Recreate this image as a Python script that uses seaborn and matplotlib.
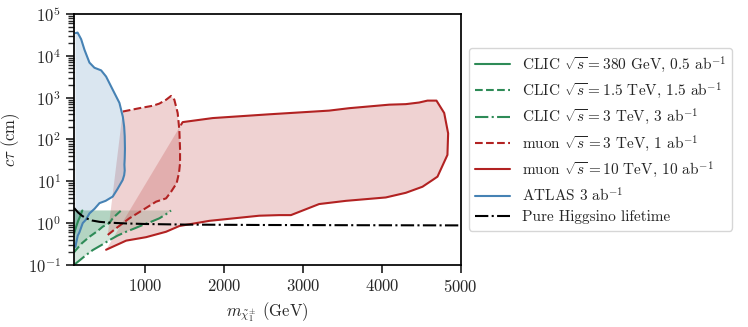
import numpy as np
import seaborn as sns
import matplotlib.pyplot as plt

# curves: mass (GeV), c*tau (cm)
clic380_m = [100, 120, 150, 180, 205]
clic380_ct = [0.55, 0.75, 1.1, 1.5, 2.0]

clic1p5_m = [100, 126, 200, 295, 400, 463, 548, 590, 640, 696]
clic1p5_ct = [0.2, 0.23, 0.33, 0.47, 0.65, 0.82, 1.0, 1.3, 1.6, 2.0]

clic3_m = [100, 147, 250, 337, 450, 548, 650, 760, 870, 970, 1080, 1181, 1260, 1329]
clic3_ct = [0.1, 0.118, 0.17, 0.226, 0.3, 0.39, 0.5, 0.62, 0.75, 0.9, 1.08, 1.3, 1.6, 2.0]

mu3_m = [527, 633, 801, 970, 1139, 1266, 1329, 1400, 1430, 1443, 1443, 1434,
         1413, 1371, 1329, 1266, 1180, 1097, 928, 718]
mu3_ct = [0.52, 0.75, 1.3, 2.05, 3.25, 3.9, 5.6, 9, 16, 27, 60, 170,
          430, 890, 1100, 890, 720, 640, 560, 466]

mu10_m = [506, 760, 1013, 1266, 1434, 1814, 2447, 2700, 2848, 3205, 3544, 4050,
          4304, 4515, 4642, 4705, 4831, 4840, 4790, 4692, 4578, 4472, 4304,
          4093, 3586, 3332, 2573, 1857, 1476, 1456]
mu10_ct = [0.23, 0.38, 0.46, 0.62, 0.85, 1.13, 1.5, 1.55, 1.55, 2.85, 3.4, 4.1,
           5.3, 7.4, 10.7, 12.9, 42.7, 140, 430, 850, 850, 765, 700,
           680, 560, 490, 400, 325, 260, 225]

atlas_m = [118, 145, 190, 232, 295, 358, 443, 506, 590, 675, 718, 735, 742,
           745, 742, 738, 742, 735, 716, 650, 590, 500, 422, 360, 295, 250,
           210, 168, 147, 126, 118]
atlas_ct = [35000, 36000, 25000, 14000, 6900, 5200, 4500, 3200, 1550, 750, 350,
            200, 120, 60, 35, 25, 18, 14, 10.7, 6.5, 4.3, 3.4, 3.0, 2.2, 1.7,
            1.2, 1.0, 0.6, 0.5, 0.33, 0.27]

higgsino_m = [100, 150, 200, 253, 330, 422, 560, 760, 1000, 1500, 2450, 3500, 5000]
higgsino_ct = [2.3, 1.8, 1.5, 1.3, 1.15, 1.07, 1.02, 0.98, 0.95, 0.92, 0.9, 0.89, 0.88]

labels = [r"CLIC $\sqrt{s} = 380$ GeV, 0.5 ab$^{-1}$",
          r"CLIC $\sqrt{s} = 1.5$ TeV, 1.5 ab$^{-1}$",
          r"CLIC $\sqrt{s} = 3$ TeV, 3 ab$^{-1}$",
          r"muon $\sqrt{s} = 3$ TeV, 1 ab$^{-1}$",
          r"muon $\sqrt{s} = 10$ TeV, 10 ab$^{-1}$",
          r"ATLAS 3 ab$^{-1}$",
          "Pure Higgsino lifetime"]

sns.set_theme(style="ticks")
plt.rcParams["font.family"] = "serif"
plt.rcParams["font.serif"] = ["cmr10", "DejaVu Serif"]
plt.rcParams["mathtext.fontset"] = "cm"
plt.rcParams["axes.formatter.use_mathtext"] = True
plt.rcParams["axes.unicode_minus"] = False
plt.rcParams["axes.edgecolor"] = "black"

green = "seagreen"
red = "firebrick"
blue = "steelblue"

fig = plt.figure(figsize=(7.48, 3.27), dpi=100)
ax = fig.add_axes([0.099, 0.19, 0.517, 0.767])

# filled regions: CLIC curves are closed off along ct = 2 cm
for m, ct in [(clic380_m, clic380_ct), (clic1p5_m, clic1p5_ct), (clic3_m, clic3_ct)]:
    ax.fill(list(m) + [m[0]], list(ct) + [ct[-1]], color=green, alpha=0.2, lw=0)
ax.fill(mu3_m, mu3_ct, color=red, alpha=0.2, lw=0)
ax.fill(mu10_m, mu10_ct, color=red, alpha=0.2, lw=0)
ax.fill(atlas_m, atlas_ct, color=blue, alpha=0.2, lw=0)

kw = dict(sort=False, estimator=None, ax=ax, lw=1.5)
sns.lineplot(x=clic380_m, y=clic380_ct, color=green, ls="-", label=labels[0], **kw)
sns.lineplot(x=clic1p5_m, y=clic1p5_ct, color=green, ls="--", label=labels[1], **kw)
sns.lineplot(x=clic3_m, y=clic3_ct, color=green, ls="-.", label=labels[2], **kw)
sns.lineplot(x=mu3_m, y=mu3_ct, color=red, ls="--", label=labels[3], **kw)
sns.lineplot(x=mu10_m, y=mu10_ct, color=red, ls="-", label=labels[4], **kw)
sns.lineplot(x=atlas_m, y=atlas_ct, color=blue, ls="-", label=labels[5], **kw)
sns.lineplot(x=higgsino_m, y=higgsino_ct, color="black", ls="-.", label=labels[6], **kw)

ax.set_yscale("log")
ax.set_xlim(100, 5000)
ax.set_ylim(0.1, 1e5)
ax.set_xticks([1000, 2000, 3000, 4000, 5000])
ax.tick_params(labelsize=12)
ax.set_xlabel(r"$m_{\tilde{\chi}_1^{\pm}}$ (GeV)", fontsize=12)
ax.set_ylabel(r"$c\tau$ (cm)", fontsize=12)

ax.legend(loc="center left", bbox_to_anchor=(1.02, 0.5), borderaxespad=0,
          fontsize=11, frameon=True, fancybox=True, handlelength=2.3,
          handletextpad=0.8, labelspacing=0.4)

fig.savefig("out.png", dpi=100)
